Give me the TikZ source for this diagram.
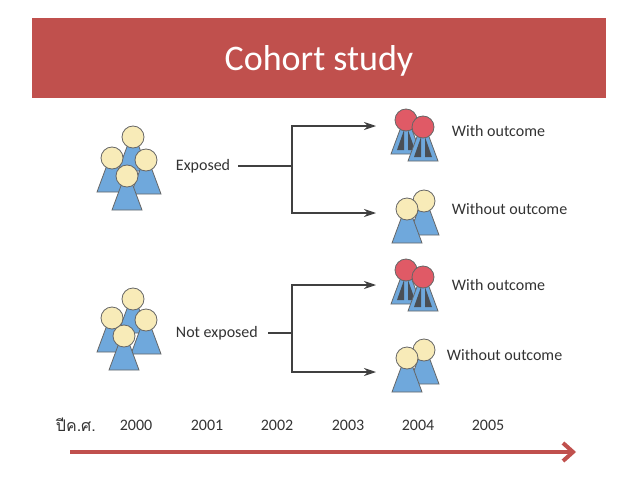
\documentclass[tikz,border=0pt]{standalone}
\usepackage{fontspec}
\setmainfont{Carlito}
\newfontfamily\thaifont[Script=Thai]{Loma}
\usetikzlibrary{arrows.meta}
\definecolor{titlered}{HTML}{C0504D}
\definecolor{headyellow}{HTML}{F8EBB8}
\definecolor{headred}{HTML}{E05A66}
\definecolor{bodyblue}{HTML}{6FA8DC}
\definecolor{lungdark}{HTML}{4A4F55}
\tikzset{
  lbl/.style={anchor=west,inner sep=0.75pt,font=\fontsize{16}{18}\selectfont,text=black!80},
  year/.style={inner sep=0.75pt,font=\fontsize{16}{18}\selectfont,text=black!80},
  branch/.style={draw=black!75,line width=1.1pt},
  tip/.style={branch,-{Stealth[length=12pt,width=8pt]}}
}
% head at (#1,#2), head colour #3
\newcommand{\person}[3]{%
  \draw[black!60,line width=0.8pt,fill=bodyblue] (#1-5,#2+7) -- (#1+5,#2+7) -- (#1+15,#2+34) -- (#1-15,#2+34) -- cycle;
  \draw[black!60,line width=0.8pt,fill=#3] (#1,#2) circle [radius=11];}
\newcommand{\sick}[2]{%
  \draw[black!60,line width=0.8pt,fill=bodyblue] (#1-5,#2+7) -- (#1+5,#2+7) -- (#1+15,#2+34) -- (#1-15,#2+34) -- cycle;
  \fill[lungdark] (#1-2,#2+10) -- (#1-9,#2+30) -- (#1-2,#2+30) -- cycle;
  \fill[lungdark] (#1+2,#2+10) -- (#1+9,#2+30) -- (#1+2,#2+30) -- cycle;
  \draw[black!60,line width=0.8pt,fill=headred] (#1,#2) circle [radius=11];}
\begin{document}
\begin{tikzpicture}[x=1pt,y=1pt,yscale=-1]
\useasboundingbox (0,0) rectangle (638,479);
% title bar
\fill[titlered] (32,18) rectangle (606,98);
\node[text=white,font=\fontsize{36}{40}\selectfont] (title) at (319,61) {Cohort study};
% groups
\person{133}{137}{headyellow}\person{112}{158}{headyellow}\person{146}{160}{headyellow}\person{127}{176}{headyellow}
\person{133}{299}{headyellow}\person{112}{318}{headyellow}\person{146}{320}{headyellow}\person{124}{336}{headyellow}
\sick{406}{120}\sick{423}{127}
\person{424}{201}{headyellow}\person{407}{209}{headyellow}
\sick{406}{270}\sick{423}{277}
\person{424}{350}{headyellow}\person{407}{358}{headyellow}
% labels
\node[lbl] (exp) at (175,166) {Exposed};
\node[lbl] (nexp) at (175,333) {Not exposed};
\node[lbl] (w1) at (451,131) {With outcome};
\node[lbl] (wo1) at (451,209) {Without outcome};
\node[lbl] (w2) at (451,285) {With outcome};
\node[lbl] (wo2) at (446,355) {Without outcome};
% connectors
\coordinate (e0) at (238,166);
\coordinate (e1) at (292,166);
\coordinate (e2) at (292,126);
\coordinate (e3) at (292,213);
\coordinate (a1) at (376,126);
\coordinate (a2) at (376,213);
\draw[branch] (e0) -- (e1);
\draw[tip] (e1) -- (e2) -- (a1);
\draw[tip] (e1) -- (e3) -- (a2);
\coordinate (n0) at (268,333);
\coordinate (n1) at (292,333);
\coordinate (n2) at (292,285);
\coordinate (n3) at (292,372);
\coordinate (b1) at (376,285);
\coordinate (b2) at (376,372);
\draw[branch] (n0) -- (n1);
\draw[tip] (n1) -- (n2) -- (b1);
\draw[tip] (n1) -- (n3) -- (b2);
% time axis
\node[year,anchor=west] (yr) at (55,425) {\thaifont ปีค.ศ.};
\foreach \yx/\yy in {136/2000,207/2001,277/2002,348/2003,418/2004,488/2005}
  \node[year] (y\yy) at (\yx,425) {\yy};
\coordinate (t0) at (70,452);
\coordinate (t1) at (576,452);
\draw[titlered,line width=4pt,-{Straight Barb[length=10pt,width=18pt]}] (t0) -- (t1);
\end{tikzpicture}
\end{document}
